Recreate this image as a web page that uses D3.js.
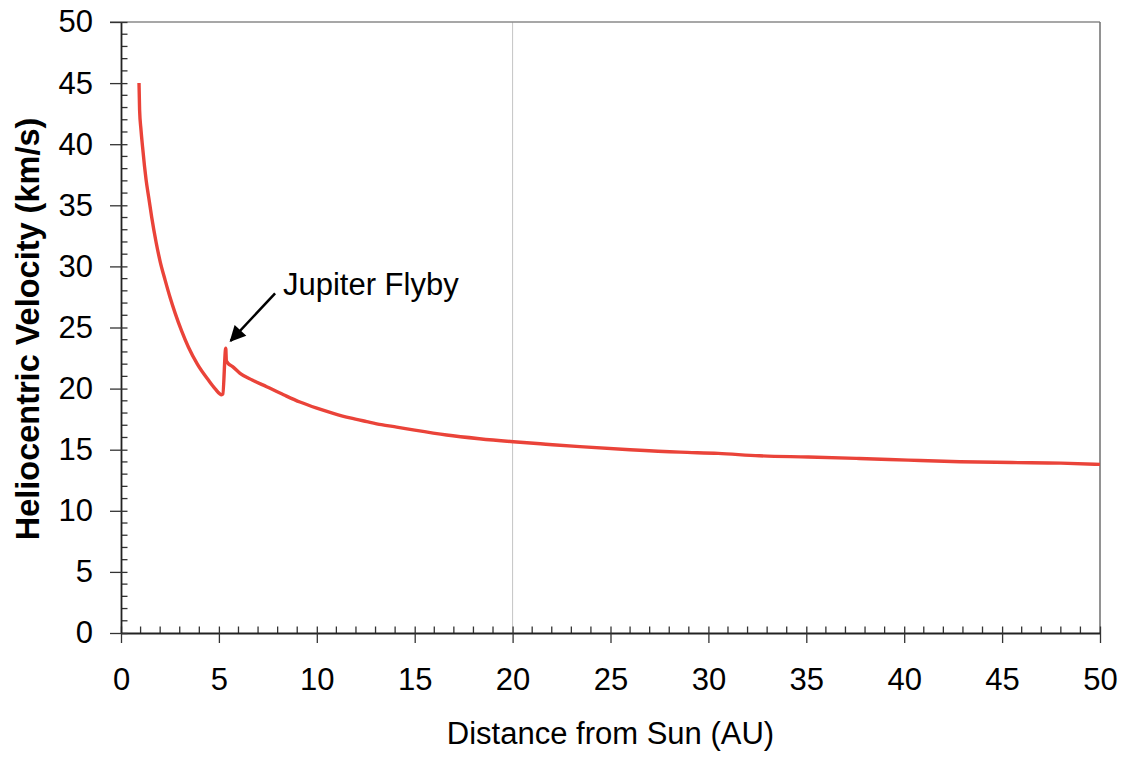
<!DOCTYPE html>
<html>
<head>
<meta charset="utf-8">
<script src="https://cdn.jsdelivr.net/npm/d3@7"></script>
<style>
  html, body { margin: 0; padding: 0; background: #fff; }
  svg { display: block; }
  text { font-family: Arial, "Liberation Sans", Helvetica, sans-serif; fill: #000; }
</style>
</head>
<body>
<svg id="chart" width="1124" height="757"></svg>
<script>
// Heliocentric distance (AU) along the trajectory
const distanceAU = [
  0.92, 0.95, 1.02, 1.10, 1.20, 1.28, 1.42, 1.57, 1.79, 2.00, 2.25, 2.50, 2.76,
  3.10, 3.44, 3.90, 4.46, 4.80, 5.14, 5.20, 5.35, 5.38, 5.45, 5.70, 6.08, 6.70,
  7.44, 8.30, 9.14, 10.00, 10.84, 11.70, 12.55, 13.30, 14.08, 15.00, 16.63, 18.30,
  20.04, 21.70, 23.44, 26.00, 28.55, 30.50, 32.60, 35.10, 37.70, 40.20, 42.85, 45.50,
  48.00, 50.00
];
// Heliocentric velocity (km/s) at each distance
const velocityKms = [
  45.0, 42.8, 41.2, 39.8, 38.2, 37.1, 35.6, 34.0, 32.0, 30.4, 28.9, 27.5, 26.2,
  24.7, 23.4, 22.0, 20.7, 20.0, 19.5, 19.55, 23.3, 22.3, 22.1, 21.8, 21.25, 20.7,
  20.15, 19.5, 18.9, 18.4, 17.98, 17.6, 17.3, 17.05, 16.85, 16.6, 16.2, 15.9,
  15.65, 15.45, 15.25, 15.0, 14.8, 14.7, 14.5, 14.4, 14.28, 14.15, 14.02, 13.95,
  13.9, 13.8
];
const xTicks = [0, 5, 10, 15, 20, 25, 30, 35, 40, 45, 50];
const yTicks = [0, 5, 10, 15, 20, 25, 30, 35, 40, 45, 50];
const xGridLines = [20];
// Flyby annotation: label anchor and arrow tail/tip, in data units
const flybyLabel = { text: "Jupiter Flyby", x: 8.27, y: 27.7 };
const flybyArrow = { x1: 7.87, y1: 27.8, x2: 5.6, y2: 23.9 };

const svg = d3.select("#chart");
const W = 1124, H = 757;
const m = { left: 121, right: 24, top: 22, bottom: 124 };
const x = d3.scaleLinear().domain([0, 50]).range([m.left, W - m.right]);
const y = d3.scaleLinear().domain([0, 50]).range([H - m.bottom, m.top]);

svg.append("rect").attr("width", W).attr("height", H).attr("fill", "#fff");

const x0 = x(0), x1 = x(50), y0 = y(0), y1 = y(50);
const fontSize = 31;

// vertical gridline(s)
svg.append("g").selectAll("line").data(xGridLines).join("line")
  .attr("x1", d => x(d)).attr("x2", d => x(d))
  .attr("y1", y1).attr("y2", y0)
  .attr("stroke", "#c4c4c4").attr("stroke-width", 1);

// top and right frame
svg.append("line").attr("x1", x0 - 11).attr("x2", x1).attr("y1", y1).attr("y2", y1)
  .attr("stroke", "#8a8a8a").attr("stroke-width", 1.5);
svg.append("line").attr("x1", x1).attr("x2", x1).attr("y1", y1).attr("y2", y0)
  .attr("stroke", "#6e6e6e").attr("stroke-width", 1.5);

// minor ticks (every 1 unit, pointing inward)
const minor = d3.range(1, 50).filter(v => v % 5 !== 0);
svg.append("g").selectAll("line").data(minor).join("line")
  .attr("x1", d => x(d)).attr("x2", d => x(d))
  .attr("y1", y0).attr("y2", y0 - 6.5)
  .attr("stroke", "#333").attr("stroke-width", 1.3);
svg.append("g").selectAll("line").data(minor).join("line")
  .attr("y1", d => y(d)).attr("y2", d => y(d))
  .attr("x1", x0).attr("x2", x0 + 6.5)
  .attr("stroke", "#333").attr("stroke-width", 1.3);

// x axis
const xAxis = svg.append("g").attr("transform", `translate(0,${y0})`)
  .call(d3.axisBottom(x).tickValues(xTicks).tickSizeInner(10).tickSizeOuter(0).tickPadding(25));
xAxis.select(".domain").attr("stroke", "#222").attr("stroke-width", 1.8);
xAxis.selectAll(".tick line").attr("stroke", "#333").attr("stroke-width", 1.3).attr("y1", -6.5);
xAxis.selectAll(".tick text").attr("font-size", fontSize).attr("font-family", "Arial, 'Liberation Sans', sans-serif").attr("fill", "#000");

// y axis
const yAxis = svg.append("g").attr("transform", `translate(${x0},0)`)
  .call(d3.axisLeft(y).tickValues(yTicks).tickSizeInner(11).tickSizeOuter(0).tickPadding(17));
yAxis.select(".domain").attr("stroke", "#222").attr("stroke-width", 1.8);
yAxis.selectAll(".tick line").attr("stroke", "#333").attr("stroke-width", 1.3).attr("x1", 6.5);
yAxis.selectAll(".tick text").attr("font-size", fontSize).attr("font-family", "Arial, 'Liberation Sans', sans-serif").attr("fill", "#000");

// velocity curve
const pts = distanceAU.map((d, i) => [d, velocityKms[i]]);
svg.append("path").datum(pts)
  .attr("fill", "none").attr("stroke", "#ea4339").attr("stroke-width", 3.4)
  .attr("stroke-linejoin", "round").attr("stroke-linecap", "butt")
  .attr("d", d3.line().curve(d3.curveMonotoneX).x(d => x(d[0])).y(d => y(d[1])));

// annotation arrow
svg.append("defs").append("marker")
  .attr("id", "arrowhead").attr("viewBox", "0 0 10 10")
  .attr("refX", 9).attr("refY", 5)
  .attr("markerWidth", 7).attr("markerHeight", 6.4)
  .attr("markerUnits", "strokeWidth").attr("orient", "auto")
  .append("path").attr("d", "M0,0 L10,5 L0,10 Z").attr("fill", "#000");
svg.append("line")
  .attr("x1", x(flybyArrow.x1)).attr("y1", y(flybyArrow.y1))
  .attr("x2", x(flybyArrow.x2)).attr("y2", y(flybyArrow.y2))
  .attr("stroke", "#000").attr("stroke-width", 2.5)
  .attr("marker-end", "url(#arrowhead)");
svg.append("text")
  .attr("x", x(flybyLabel.x)).attr("y", y(flybyLabel.y))
  .attr("font-size", fontSize).text(flybyLabel.text);

// axis titles
svg.append("text")
  .attr("x", (x0 + x1) / 2).attr("y", 744)
  .attr("text-anchor", "middle").attr("font-size", fontSize)
  .text("Distance from Sun (AU)");
svg.append("text")
  .attr("transform", `translate(39,329) rotate(-90)`)
  .attr("text-anchor", "middle").attr("font-size", 32.5).attr("font-weight", "bold")
  .text("Heliocentric Velocity (km/s)");
</script>
</body>
</html>
